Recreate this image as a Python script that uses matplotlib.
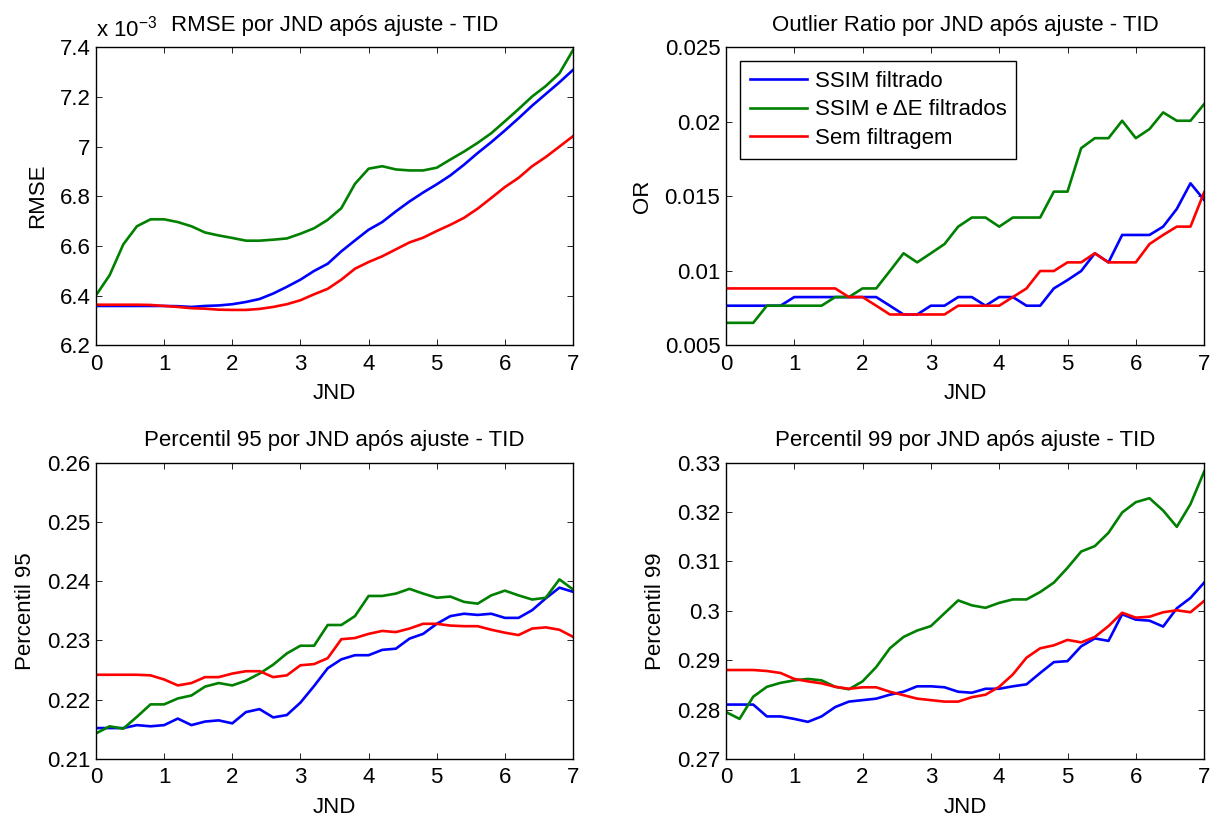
import numpy as np
import matplotlib
matplotlib.use('Agg')
import matplotlib.pyplot as plt
from matplotlib.ticker import FuncFormatter, MultipleLocator

plt.rcParams['font.family'] = ['Liberation Sans', 'DejaVu Sans']
plt.rcParams['mathtext.fontset'] = 'custom'
plt.rcParams['mathtext.rm'] = 'Liberation Sans'
plt.rcParams['mathtext.it'] = 'Liberation Sans:italic'
plt.rcParams['font.size'] = 16

# JND steps 0 .. 7 (step 0.2)
jnd = np.round(np.arange(0, 7.01, 0.2), 1)

labels = ['SSIM filtrado', 'SSIM e \u0394E filtrados', 'Sem filtragem']
colors = ['#0000ff', '#008000', '#ff0000']

# RMSE (x 1e-3)
rmse_ssim = [6.358, 6.358, 6.358, 6.358, 6.358, 6.358, 6.357, 6.354, 6.358, 6.360,
             6.365, 6.374, 6.386, 6.408, 6.435, 6.464, 6.499, 6.528, 6.578, 6.622,
             6.665, 6.696, 6.739, 6.779, 6.815, 6.848, 6.884, 6.927, 6.974, 7.018,
             7.065, 7.114, 7.165, 7.212, 7.259, 7.309]
rmse_ssim_de = [6.401, 6.482, 6.606, 6.679, 6.707, 6.707, 6.696, 6.679, 6.654, 6.642,
                6.632, 6.621, 6.621, 6.625, 6.630, 6.649, 6.671, 6.705, 6.752, 6.850,
                6.911, 6.921, 6.908, 6.904, 6.904, 6.915, 6.948, 6.980, 7.015, 7.054,
                7.102, 7.151, 7.202, 7.244, 7.295, 7.389]
rmse_none = [6.363, 6.363, 6.363, 6.363, 6.362, 6.358, 6.354, 6.349, 6.347, 6.343,
             6.342, 6.342, 6.346, 6.354, 6.365, 6.381, 6.405, 6.427, 6.464, 6.508,
             6.535, 6.558, 6.586, 6.614, 6.633, 6.660, 6.685, 6.713, 6.750, 6.793,
             6.837, 6.874, 6.921, 6.958, 7.000, 7.042]

# Outlier ratio
or_ssim = [0.00765, 0.00765, 0.00765, 0.00765, 0.00765, 0.00823, 0.00823, 0.00823, 0.00823, 0.00823,
           0.00823, 0.00823, 0.00765, 0.00706, 0.00706, 0.00765, 0.00765, 0.00823, 0.00823, 0.00765,
           0.00823, 0.00823, 0.00765, 0.00765, 0.00881, 0.00937, 0.00998, 0.01117, 0.01056, 0.01240,
           0.01240, 0.01240, 0.01296, 0.01415, 0.01587, 0.01475]
or_ssim_de = [0.0065, 0.0065, 0.0065, 0.00765, 0.00765, 0.00765, 0.00765, 0.00765, 0.00823, 0.00823,
              0.00881, 0.00881, 0.00998, 0.01117, 0.01056, 0.01117, 0.01179, 0.01296, 0.01357, 0.01357,
              0.01296, 0.01357, 0.01357, 0.01357, 0.01531, 0.01531, 0.01823, 0.01890, 0.01890, 0.02007,
              0.01890, 0.01951, 0.02063, 0.02007, 0.02007, 0.02119]
or_none = [0.00881, 0.00881, 0.00881, 0.00881, 0.00881, 0.00881, 0.00881, 0.00881, 0.00881, 0.00823,
           0.00823, 0.00765, 0.00706, 0.00706, 0.00706, 0.00706, 0.00706, 0.00765, 0.00765, 0.00765,
           0.00765, 0.00823, 0.00881, 0.00998, 0.00998, 0.01056, 0.01056, 0.01117, 0.01056, 0.01056,
           0.01056, 0.01179, 0.01240, 0.01296, 0.01296, 0.01527]

# Percentil 95
p95_ssim = [0.2152, 0.2152, 0.2152, 0.2157, 0.2155, 0.2157, 0.2168, 0.2157, 0.2163, 0.2165,
            0.2160, 0.2179, 0.2184, 0.2170, 0.2174, 0.2195, 0.2223, 0.2253, 0.2268, 0.2275,
            0.2275, 0.2284, 0.2286, 0.2303, 0.2311, 0.2328, 0.2341, 0.2345, 0.2343, 0.2345,
            0.2338, 0.2338, 0.2351, 0.2371, 0.2389, 0.2382]
p95_ssim_de = [0.2143, 0.2155, 0.2151, 0.2171, 0.2192, 0.2192, 0.2202, 0.2207, 0.2222, 0.2228,
               0.2224, 0.2232, 0.2244, 0.2259, 0.2278, 0.2291, 0.2291, 0.2326, 0.2326, 0.2341,
               0.2375, 0.2375, 0.2379, 0.2387, 0.2379, 0.2372, 0.2374, 0.2365, 0.2362, 0.2376,
               0.2384, 0.2376, 0.2369, 0.2372, 0.2403, 0.2386]
p95_none = [0.2242, 0.2242, 0.2242, 0.2242, 0.2241, 0.2234, 0.2224, 0.2228, 0.2238, 0.2238,
            0.2244, 0.2248, 0.2248, 0.2238, 0.2241, 0.2258, 0.2260, 0.2270, 0.2302, 0.2304,
            0.2311, 0.2316, 0.2314, 0.2320, 0.2328, 0.2328, 0.2325, 0.2324, 0.2324, 0.2318,
            0.2313, 0.2309, 0.2320, 0.2322, 0.2318, 0.2306]

# Percentil 99
p99_ssim = [0.2810, 0.2810, 0.2810, 0.2786, 0.2786, 0.2781, 0.2775, 0.2786, 0.2805, 0.2816,
            0.2819, 0.2822, 0.2830, 0.2836, 0.2847, 0.2847, 0.2845, 0.2836, 0.2834, 0.2842,
            0.2842, 0.2847, 0.2851, 0.2874, 0.2896, 0.2898, 0.2928, 0.2944, 0.2939, 0.2993,
            0.2982, 0.2980, 0.2968, 0.3005, 0.3026, 0.3057]
p99_ssim_de = [0.2795, 0.2781, 0.2826, 0.2846, 0.2854, 0.2859, 0.2862, 0.2859, 0.2846, 0.2841,
               0.2857, 0.2886, 0.2924, 0.2947, 0.2960, 0.2969, 0.2995, 0.3021, 0.3011, 0.3006,
               0.3016, 0.3023, 0.3023, 0.3038, 0.3057, 0.3087, 0.3120, 0.3131, 0.3158, 0.3199,
               0.3220, 0.3228, 0.3203, 0.3170, 0.3216, 0.3282]
p99_none = [0.2880, 0.2880, 0.2880, 0.2878, 0.2874, 0.2862, 0.2857, 0.2853, 0.2846, 0.2842,
            0.2845, 0.2845, 0.2836, 0.2829, 0.2822, 0.2819, 0.2816, 0.2816, 0.2825, 0.2830,
            0.2846, 0.2871, 0.2905, 0.2924, 0.2930, 0.2941, 0.2936, 0.2947, 0.2969, 0.2996,
            0.2986, 0.2988, 0.2997, 0.3001, 0.2997, 0.3020]

panels = [
    ('RMSE por JND após ajuste - TID', 'RMSE', [rmse_ssim, rmse_ssim_de, rmse_none], (6.2, 7.4), 0.2),
    ('Outlier Ratio por JND após ajuste - TID', 'OR', [or_ssim, or_ssim_de, or_none], (0.005, 0.025), 0.005),
    ('Percentil 95 por JND após ajuste - TID', 'Percentil 95', [p95_ssim, p95_ssim_de, p95_none], (0.21, 0.26), 0.01),
    ('Percentil 99 por JND após ajuste - TID', 'Percentil 99', [p99_ssim, p99_ssim_de, p99_none], (0.27, 0.33), 0.01),
]

fig = plt.figure(figsize=(12.2, 8.16), dpi=100)
rects = [
    [0.0787, 0.577, 0.391, 0.365],
    [0.595, 0.577, 0.392, 0.365],
    [0.0787, 0.070, 0.391, 0.363],
    [0.595, 0.070, 0.392, 0.363],
]

fmt = FuncFormatter(lambda v, p: '%g' % round(v, 6))

for i, (title, ylab, series, ylim, step) in enumerate(panels):
    ax = fig.add_axes(rects[i])
    for s, c, l in zip(series, colors, labels):
        ax.plot(jnd, s, color=c, lw=1.9, label=l)
    ax.set_xlim(0, 7)
    ax.set_ylim(*ylim)
    ax.xaxis.set_major_locator(MultipleLocator(1))
    ax.yaxis.set_major_locator(MultipleLocator(step))
    ax.yaxis.set_major_formatter(fmt)
    ax.tick_params(direction='in', top=True, right=True, length=4, width=0.6,
                   labelsize=16)
    ax.tick_params(axis='x', pad=6)
    ax.tick_params(axis='y', pad=4)
    for sp in ax.spines.values():
        sp.set_linewidth(1.0)
    ax.set_title(title, fontsize=16, pad=12)
    ax.set_xlabel('JND', fontsize=16, labelpad=6)
    ax.set_ylabel(ylab, fontsize=16, labelpad=8)
    if i == 0:
        ax.text(0.0, 1.02, 'x 10$^{-3}$', transform=ax.transAxes, fontsize=16,
                ha='left', va='bottom')
    if i == 1:
        leg = ax.legend(loc='upper left', bbox_to_anchor=(0.03, 0.953), borderaxespad=0,
                        fontsize=16, fancybox=False, edgecolor='black', framealpha=1,
                        handlelength=2.6, handletextpad=0.35, labelspacing=0.35,
                        borderpad=0.42)
        leg.get_frame().set_linewidth(1.0)

fig.savefig('out.png', dpi=100)
